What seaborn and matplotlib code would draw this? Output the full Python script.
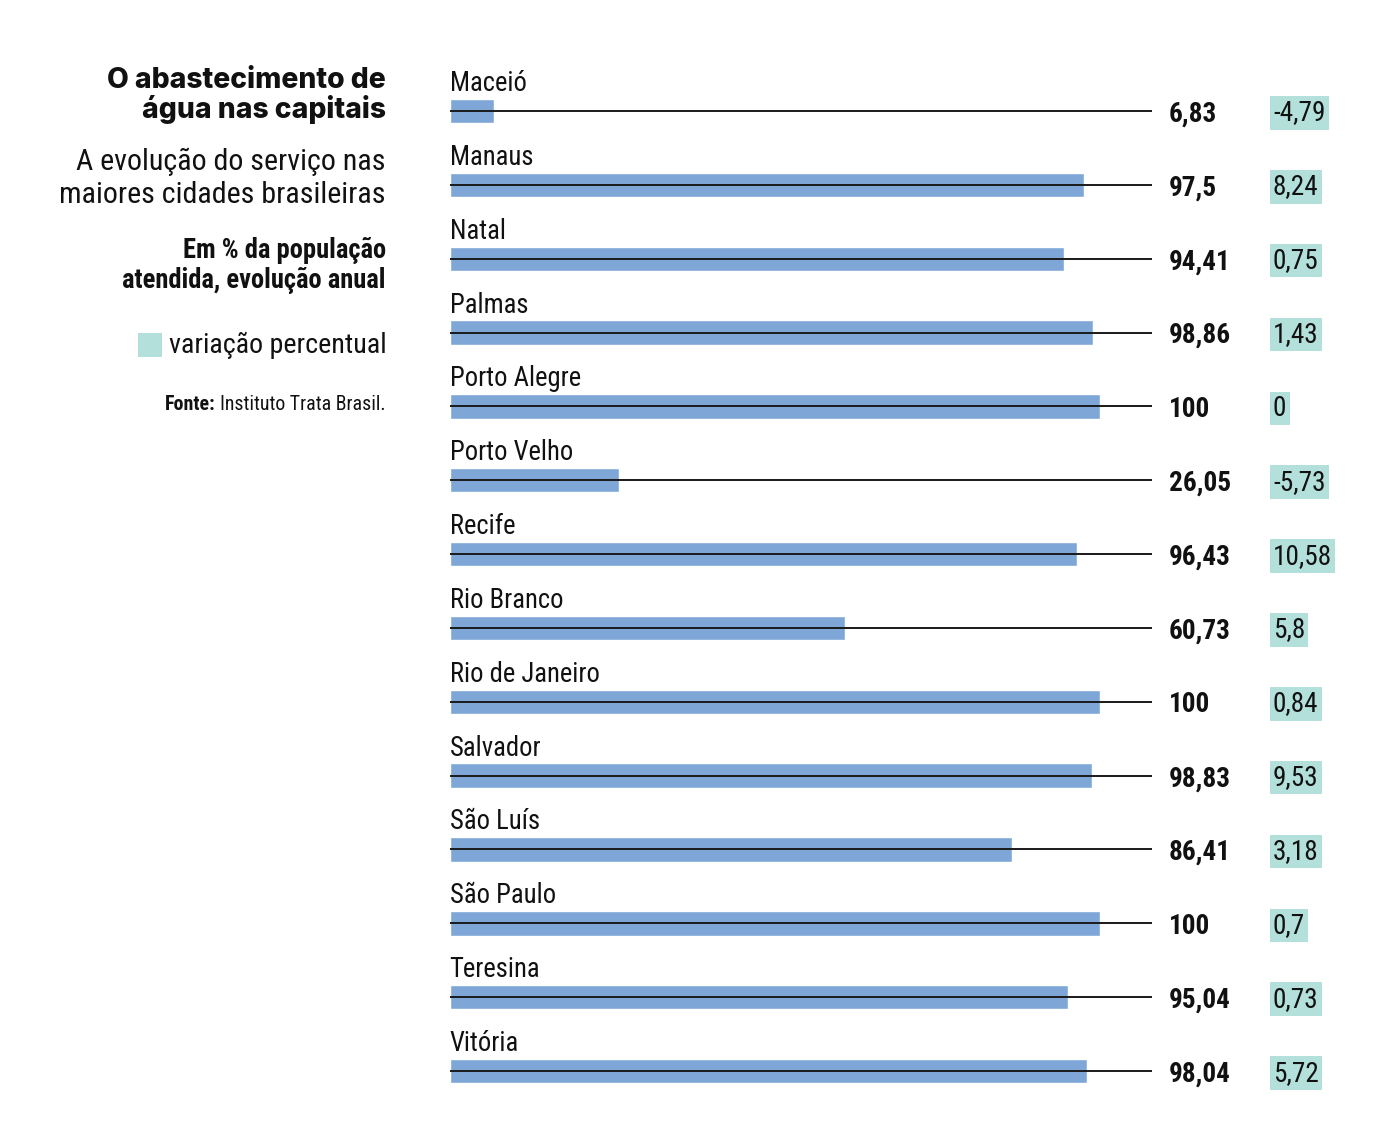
import matplotlib
matplotlib.use("Agg")
import matplotlib.pyplot as plt
import seaborn as sns
import pandas as pd
from matplotlib import font_manager
from matplotlib.font_manager import FontProperties

cities = ["Maceió", "Manaus", "Natal", "Palmas", "Porto Alegre", "Porto Velho", "Recife",
          "Rio Branco", "Rio de Janeiro", "Salvador", "São Luís", "São Paulo", "Teresina", "Vitória"]
coverage = [6.83, 97.5, 94.41, 98.86, 100, 26.05, 96.43, 60.73, 100, 98.83, 86.41, 100, 95.04, 98.04]
variation = [-4.79, 8.24, 0.75, 1.43, 0, -5.73, 10.58, 5.8, 0.84, 9.53, 3.18, 0.7, 0.73, 5.72]

sns.set_theme(style="white")
plt.rcParams["font.family"] = ["DejaVu Sans"]


def wnum(w):
    if isinstance(w, str):
        return font_manager.weight_dict.get(w.lower(), 400)
    return int(w)


def pick_font(bold):
    prefs = ["Roboto Condensed", "Roboto", "Noto Sans", "Open Sans", "Liberation Sans Narrow",
             "DejaVu Sans", "Inter", "Lato"]
    best = None
    for f in font_manager.fontManager.ttflist:
        if f.style != "normal":
            continue
        if f.stretch not in ("condensed", "semi-condensed", "extra-condensed"):
            continue
        w = wnum(f.weight)
        if bold and not (600 <= w <= 750):
            continue
        if not bold and not (350 <= w <= 450):
            continue
        rank = prefs.index(f.name) if f.name in prefs else len(prefs)
        if best is None or rank < best[0]:
            best = (rank, f.fname)
    if best:
        return FontProperties(fname=best[1])
    return FontProperties(family=["Roboto", "DejaVu Sans"], weight="bold" if bold else "normal")


REG = pick_font(False)
BOLD = pick_font(True)
TITLE = FontProperties(family=["Inter", "DejaVu Sans"], weight=800)

W, H = 1380, 1148
fig = plt.figure(figsize=(W / 100, H / 100), dpi=100)
fig.patch.set_facecolor("white")
renderer = fig.canvas.get_renderer()


def fit_size(text, fp, target, base=20):
    p = fp.copy()
    p.set_size(base)
    t = fig.text(0, 0, text, fontproperties=p)
    w = t.get_window_extent(renderer).width
    t.remove()
    return base * target / w


def props(fp, size):
    p = fp.copy()
    p.set_size(size)
    return p


BLUE = "#7ea7d8"
TEAL = "#b3e0da"
INK = "#111111"

df = pd.DataFrame({"city": cities, "coverage": coverage})

ax = fig.add_axes([450 / W, 0, 1 - 450 / W, 1])
sns.barplot(data=df, y="city", x="coverage", orient="h", color=BLUE, width=0.33,
            saturation=1, ax=ax, zorder=1)
row = 73.85
ax.set_xlim(0, (W - 450) / 6.5)
ax.set_ylim((H - 111) / row, -111 / row)
ax.axis("off")

px = 1 / 6.5
py = 1 / row


def fmt(v):
    return f"{v:g}".replace(".", ",")


s_city = min(fit_size("Rio de Janeiro", REG, 150), 21)
s_val = min(fit_size("98,04", BOLD, 62), 21)
s_var = s_val

for i, (c, v, d) in enumerate(zip(cities, coverage, variation)):
    ax.hlines(i, 0, 108, color="#1a1a1a", lw=1.4, zorder=3)
    ax.text(-0.5 * px, i - 20 * py, c, fontproperties=props(REG, s_city), va="baseline", ha="left", color=INK)
    ax.text(110.6, i + 3 * py, fmt(v), fontproperties=props(BOLD, s_val), va="center", ha="left", color=INK)
    ax.text(126.6, i + 2 * py, fmt(d), fontproperties=props(REG, s_var), va="center", ha="left", color=INK,
            bbox=dict(boxstyle="square,pad=0.12", fc=TEAL, ec="none"))


def fx(x):
    return x / W


def fy(y):
    return 1 - y / H


s_title = fit_size("O abastecimento de", TITLE, 279)
fig.text(fx(386), fy(80), "O abastecimento de", fontproperties=props(TITLE, s_title),
         ha="right", va="center", color=INK)
fig.text(fx(386), fy(109), "água nas capitais", fontproperties=props(TITLE, s_title),
         ha="right", va="center", color=INK)

s_sub = min(fit_size("maiores cidades brasileiras", REG, 326), 22)
fig.text(fx(386), fy(162), "A evolução do serviço nas", fontproperties=props(REG, s_sub),
         ha="right", va="center", color=INK)
fig.text(fx(386), fy(195), "maiores cidades brasileiras", fontproperties=props(REG, s_sub),
         ha="right", va="center", color=INK)

s_unit = min(fit_size("atendida, evolução anual", BOLD, 264), 21)
fig.text(fx(386), fy(250), "Em % da população", fontproperties=props(BOLD, s_unit),
         ha="right", va="center", color=INK)
fig.text(fx(386), fy(281), "atendida, evolução anual", fontproperties=props(BOLD, s_unit),
         ha="right", va="center", color=INK)

fig.patches.append(plt.Rectangle((fx(138), fy(357)), 24 / W, 24 / H, transform=fig.transFigure,
                                 fc=TEAL, ec="none"))
s_leg = min(fit_size("variação percentual", REG, 217), 22)
fig.text(fx(169), fy(345), "variação percentual", fontproperties=props(REG, s_leg),
         ha="left", va="center", color=INK)

s_src = min(fit_size("Instituto Trata Brasil.", REG, 165), 15)
src = fig.text(fx(386), fy(405), "Instituto Trata Brasil.", fontproperties=props(REG, s_src),
               ha="right", va="center", color=INK)
left_px = src.get_window_extent(renderer).x0
fig.text((left_px - 5) / W, fy(405), "Fonte:", fontproperties=props(BOLD, s_src),
         ha="right", va="center", color=INK)

fig.savefig("out.png", dpi=100, facecolor="white")
